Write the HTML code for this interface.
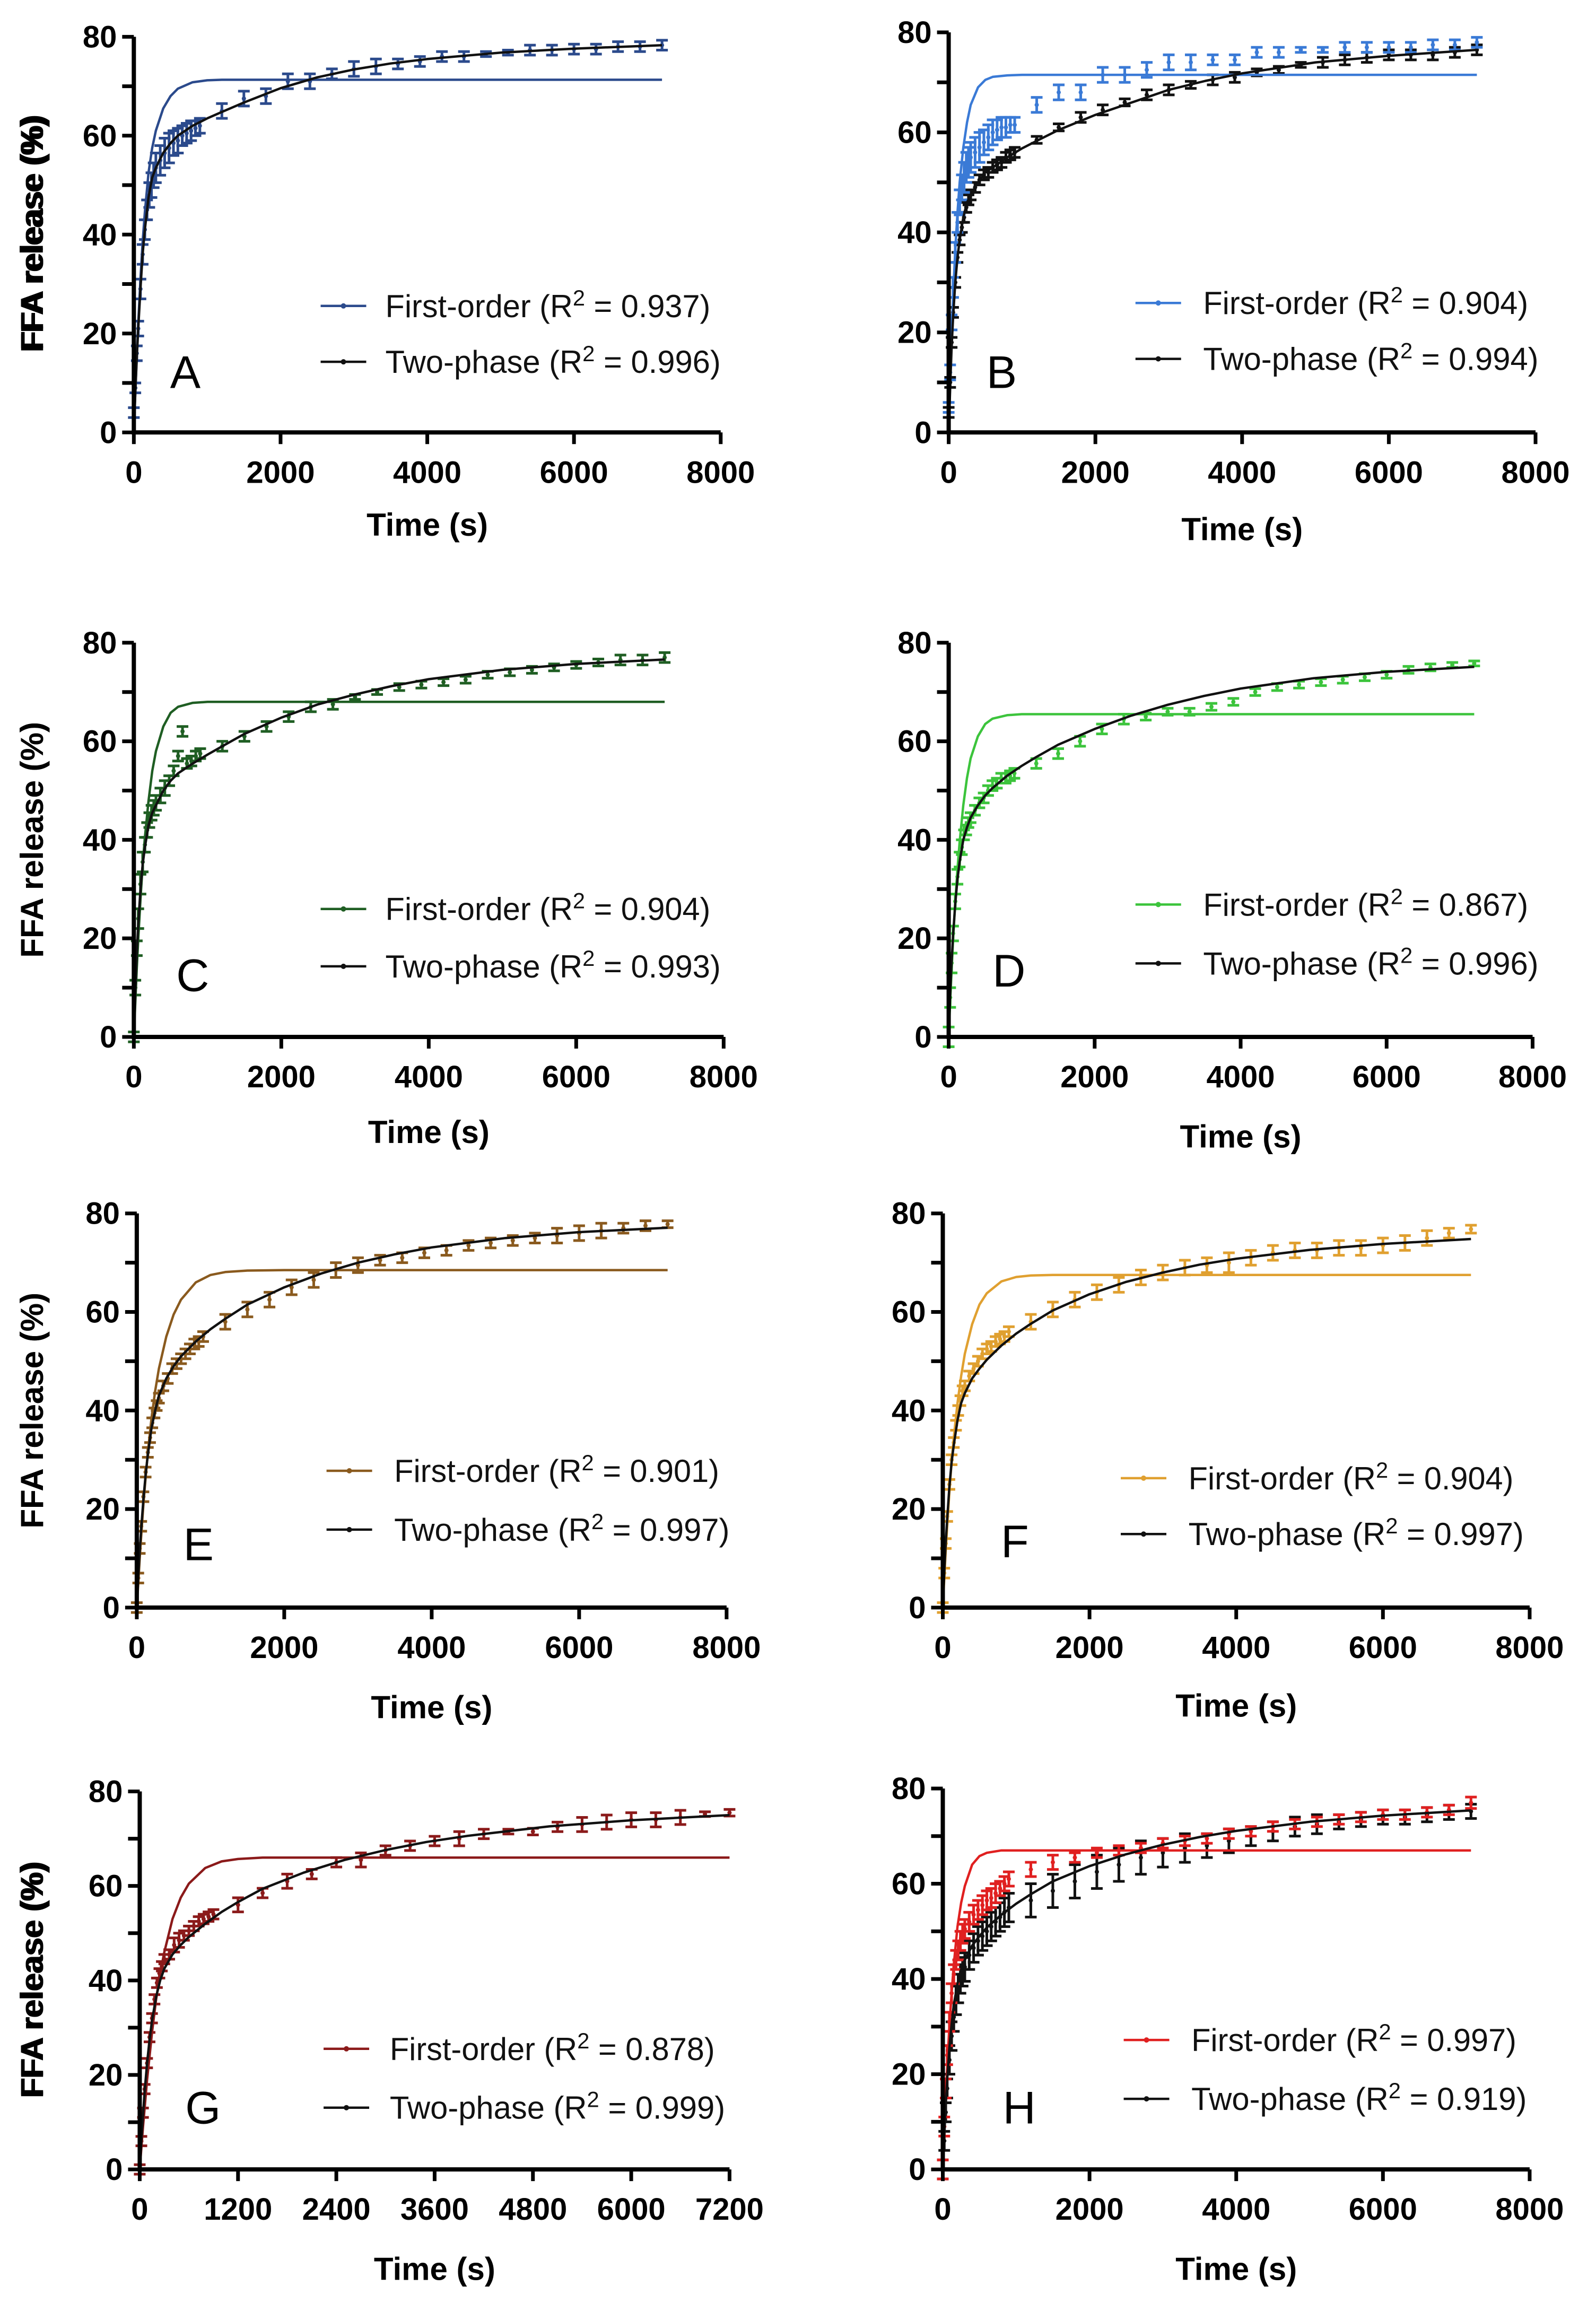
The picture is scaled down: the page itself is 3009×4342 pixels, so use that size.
<!DOCTYPE html>
<html><head><meta charset="utf-8"><style>
html,body{margin:0;padding:0;background:#fff;}
svg{display:block;}
</style></head><body>
<svg id="fig" xmlns="http://www.w3.org/2000/svg" width="3009" height="4342" viewBox="0 0 3009 4342"></svg>
<script>
// ---- data (shared time grids) ----
const dT = [0,20,40,60,90,120,150,180,210,240,270,300,360,420,480,540,600,660,720,780,840,900,1200,1500,1800,2100,2400,2700,3000,3300,3600,3900,4200,4500,4800,5100,5400,5700,6000,6300,6600,6900,7200];
const cT = [0,20,40,60,90,120,150,200,250,300,400,500,600,800,1000,1200,1500,2000,2500,3000,3500,4000,5000,6000,7200];
const yTicks = [0,20,40,60,80];
const xTicks8000 = [0,2000,4000,6000,8000];
const xTicks7200 = [0,1200,2400,3600,4800,6000,7200];

const aMean = [4,9,16,21,29,36,41,45,48,50,52,53.5,55,56.5,57.5,58.5,59,60,60.5,61,61.5,62,65,67.5,68,71,71,72.5,73.5,74,74.5,75,76,76,76.5,76.8,77.3,77.3,77.5,77.5,78,78,78.3];
const aErr  = [1,1,1.5,1.5,2,2,2,2,2.5,2.5,2.5,3,3,3,3,2.5,2.5,2,2,2,1.5,1.5,1.5,1.5,1.5,1.5,1.5,1,1.5,1.5,1,1,1,1,0.5,0.5,1,1,1,1,1,1,1];
const aFirst = [0,8,15.5,22,31,38.5,44.5,52.5,57.5,61,65.5,68,69.5,70.8,71.2,71.3,71.3,71.3,71.3,71.3,71.3,71.3,71.3,71.3,71.3];
const aTwo = [0,8,15,21,29,36,41,47.5,51.5,53.5,56.5,58.5,60,62,63.5,64.8,66.7,69.6,71.8,73.4,74.6,75.5,76.8,77.6,78.3];

const bMean = [5,12,22,29,36,42,46,49,51,53,54,55,56,57,58,59,60,60.5,61,61,61.5,61.5,65.5,68,68,71.5,71.5,72.5,74,74,74.5,74.5,76,76,76.5,76.5,77,77,77,77,77.5,77.5,78];
const bErr  = [1,1.5,1.5,2,2,2,2.5,2.5,3,3,3,3,3,3,2.5,2.5,2.5,2,2,2,1.5,1.5,1.5,1.5,1.5,1.5,1.5,1.5,1.5,1.5,1,1,1,1,0.5,0.5,1,1,1,1,1,1,1];
const bBlkMean = [4,10,18,24,30,35,38.5,41,43,45,46.5,47.5,49,50.5,51.5,52,53,53.5,54,55,55.5,56,58.5,61,63,64.5,66,67.5,68.5,69.5,70.5,71,72,72.5,73.5,74,74.5,75,75.5,75.5,75.5,76,76.5];
const bBlkErr = [1,1,1,1,1,1,1,1,1,1,1,1,1,1,1,1,1,1,1,1,1,1,0.7,0.7,1,1,0.7,1,1,0.7,1,1,0.7,0.7,0.5,1,1,1,1,1,1,1,1];
const bFirst = [0,10,19,27,36.5,44,50,57,62,65.5,69,70.5,71.1,71.4,71.5,71.5,71.5,71.5,71.5,71.5,71.5,71.5,71.5,71.5,71.5];
const bTwo = [0,9,17,23,30,35,38.5,43,46,47.5,50,52,53,55,56.8,58.3,60.5,63.5,66,68.5,70.3,71.8,74,75.3,76.5];

const cMean = [0,10,18,24,31,35.5,39,42,44,45.5,46.5,47.5,49,50.5,52,54,57,62,55.5,56,57,57.5,59,61,63,65,67,67.5,69,70,71,71.5,72,72.5,73.5,74,74.5,75,75.5,76,76.5,76.5,77];
const cErr  = [1,1.5,1.5,2,2,2,1.5,1.5,1.5,1.5,1.5,1.5,1.5,1.5,1,1,1,1,1,1,1,1,1,1,1,1,1,1,0.5,0.5,0.7,0.7,0.7,0.7,0.7,0.7,0.7,0.7,0.7,0.7,1,1,1];
const cFirst = [0,7,14,20,28,35,40.5,48,54,58,63,65.8,67,67.8,68,68,68,68,68,68,68,68,68,68,68];
const cTwo = [0,9,17,23,30,35,38.5,43,45.5,47,50,52,53.5,55.5,57.3,59,61.5,64.8,67.5,69.5,71.2,72.6,74.5,75.7,76.6];

const dMean = [0,8,15,21,27.5,32.5,36,38.5,41,42,43.5,44.5,46,47.5,48.5,50,51,51.5,52.5,52.5,53,53.5,55.5,57.5,60,62.5,64.5,65,66,66,67,68,70,71,71.5,72,72.5,73,73.5,74.5,75,75.5,75.8];
const dErr  = [2,2,2,1.5,1.5,1.5,1.5,1.5,1,1,1,1,1,1,1,1,1,1,1,1,1,1,1,1,1,1,1,0.7,0.7,0.7,0.7,0.7,0.7,0.7,0.7,0.7,0.7,0.7,0.7,0.7,0.7,0.5,0.5];
const dFirst = [0,7,13.5,19.5,27.5,34,39.5,47,52.5,56.5,61,63.5,64.6,65.3,65.5,65.5,65.5,65.5,65.5,65.5,65.5,65.5,65.5,65.5,65.5];
const dTwo = [0,8,15,20.5,27,32,35.5,40,42.5,44.5,47,49,50.5,53,55,56.8,59.3,62.5,65.2,67.4,69.2,70.7,72.8,74.1,75.1];

const eMean = [0,6,12,16.5,22.5,27.5,31.5,34.5,37.5,39.5,41,42.5,45,46.5,48.5,49.5,50.5,51.5,52.5,53.5,54,55,58,60.5,62.5,65,66.5,68.5,69.5,70.5,71,72,72.5,73.5,74,74.5,75,75.5,76,76.5,77,77.5,77.8];
const eErr  = [1,1,1,1,1,1,1,1,1,1,1,1,1,1,1,1,1,1,1,1,1,1,1.5,1.5,1.5,1.5,1.5,1.5,1.5,1,1,1,1,1,1,1,1,1.5,1.5,1.5,1,1,0.7];
const eFirst = [0,5,10,14.5,21,26.5,31.5,38.5,44,48.5,55,59.5,62.5,66,67.5,68.1,68.4,68.5,68.5,68.5,68.5,68.5,68.5,68.5,68.5];
const eTwo = [0,6,11.5,16,22,27,31,36.5,40,43,46.5,49,51,54,56.5,58.6,61.5,65,67.8,70,71.7,73.1,75,76.2,77.1];

const fMean = [0,7,13,18.5,25,30,33.5,37,40,42,44,45,47,48.5,50,51.5,52.5,53,54,54.5,55,56,58,60.5,62.5,64,65.5,67,68,69,69.5,70,71,72,72.5,72.5,73,73,73.5,74,75,76,76.8];
const fErr  = [1,1,1,1,1,1,1,1,1,1,1,1,1,1,1,1,1,1,1,1,1,1,1.5,1.5,1.5,1.5,1.5,1.5,1.5,1.5,1.5,2,1.5,1.5,1.5,1.5,1.5,1.5,1.5,1.5,1.5,1,0.8];
const fFirst = [0,6,11.5,16.5,23.5,29.5,34.5,41.5,47,51.5,57.5,61.5,63.8,66.2,67.1,67.4,67.5,67.5,67.5,67.5,67.5,67.5,67.5,67.5,67.5];
const fTwo = [0,7,13,18,24.5,29.5,33,38,41.5,43.5,46.5,48.5,50.3,53.2,55.6,57.6,60.3,63.6,66.1,68,69.6,70.8,72.6,73.8,74.8];

const gMean = [0,6,12,17,22.5,28,32,36,39.5,41.5,43,44.5,45.5,47.5,48.5,49.5,50.5,51.5,52.5,53,53.5,54,56,58.5,61,62.5,65,65.5,67.5,68.5,69.5,70,71,71.5,71.5,72.5,73,73.5,74,74,74.5,75.2,75.5];
const gErr  = [1,1,1,1,1,1,1,1,1,1,1,1,1,1.5,1.5,1,1,1,1,1,1,1,1.5,1,1.5,1,1,1.5,1,1,1,1.5,1,0.5,0.7,1,1.5,1.5,1.5,1.5,1.5,0.5,0.7];
const gFirst = [0,4.5,9,13,19,24,29,36,41.5,46,53,57.5,60.5,63.8,65.2,65.7,66,66,66,66,66,66,66,66,66];
const gTwo = [0,6,11.5,16.5,22.5,27.5,31.5,36.5,40,42.5,45.5,47.5,49.2,52,54.5,56.6,59.4,62.8,65.5,67.6,69.3,70.6,72.6,73.9,75];

const hMean = [0,9,17,24,31,37,41,44,46,48,49.5,50.5,52,53.5,54.5,55.5,56.5,57,58,59,60,61,63,64.5,65.5,66.5,67,67.5,68.5,69,69.5,70.5,71,72,72.5,73,73.5,74,74.5,74.5,75,75.5,77];
const hErr  = [2,2,2,2,2,2,2,2,2,2,2,2,2,2,2,2,2,2,2,1.5,1.5,1.5,1.5,1.5,1,1,1,1,1,1,1,1,1,1,1,1,1,1,1,1,1,1,1.2];
const hBlkMean = [0,6,12,17,23,28,32,35.5,38,40,41.5,42.5,45,46.5,48,49,50,51,52,53,54,55,56.5,58.5,60.5,62.5,64,65.5,66.5,67.5,68,69,70,71,72,72.5,73,73.5,74,74,74.5,75,75.2];
const hBlkErr = [2,2,2,2,3,3,3,3,3,3,3,3,3,3,3,3,3,3,3,3,3,3,3.5,3.5,3.5,3.5,3.5,3.5,3,3,2.5,2.5,2,2,2,2,1.5,1.5,1.5,1.5,1.5,1.5,1.5];
const hFirst = [0,8,15,21.5,30,37,43,51,56,59.5,64,65.8,66.5,67,67,67,67,67,67,67,67,67,67,67,67];
const hTwo = [0,7,13.5,19,25.5,30.5,34.5,39,42,44,47,49,50.8,53.5,55.8,57.8,60.5,63.7,66.2,68.2,69.8,71.1,73,74.3,75.4];

// ---- layout (overview coords, scaled by S) ----
const S = 2.773;
const panels = [
 {id:'a',L:'A',ax:91,y80:25,y0:294,xr:490,xmax:8000,ticks:xTicks8000,time:357,lg:[208,246],lx:218,lt:262,lab:[126,253],col:'#2b4a8c',r1:'0.937',r2:'0.996',mean:aMean,err:aErr,first:aFirst,two:aTwo},
 {id:'b',L:'B',ax:645,y80:22,y0:294,xr:1044,xmax:8000,ticks:xTicks8000,time:360,lg:[206,244],lx:772,lt:818,lab:[681,253],col:'#3a7ad6',r1:'0.904',r2:'0.994',mean:bMean,err:bErr,first:bFirst,two:bTwo,bm:bBlkMean,be:bBlkErr},
 {id:'c',L:'C',ax:91,y80:437,y0:705,xr:492,xmax:8000,ticks:xTicks8000,time:770,lg:[618,657],lx:218,lt:262,lab:[131,663],col:'#1f5e23',r1:'0.904',r2:'0.993',mean:cMean,err:cErr,first:cFirst,two:cTwo},
 {id:'d',L:'D',ax:645,y80:437,y0:705,xr:1042,xmax:8000,ticks:xTicks8000,time:773,lg:[615,655],lx:772,lt:818,lab:[686,660],col:'#3cc43c',r1:'0.867',r2:'0.996',mean:dMean,err:dErr,first:dFirst,two:dTwo},
 {id:'e',L:'E',ax:93,y80:825,y0:1093,xr:494,xmax:8000,ticks:xTicks8000,time:1161,lg:[1000,1040],lx:222,lt:268,lab:[135,1050],col:'#8a5a1e',r1:'0.901',r2:'0.997',mean:eMean,err:eErr,first:eFirst,two:eTwo},
 {id:'f',L:'F',ax:641,y80:825,y0:1093,xr:1040,xmax:8000,ticks:xTicks8000,time:1160,lg:[1005,1043],lx:762,lt:808,lab:[690,1048],col:'#e0a030',r1:'0.904',r2:'0.997',mean:fMean,err:fErr,first:fFirst,two:fTwo},
 {id:'g',L:'G',ax:95,y80:1218,y0:1475,xr:496,xmax:7200,ticks:xTicks7200,time:1543,lg:[1393,1433],lx:220,lt:265,lab:[138,1433],col:'#8b1a1a',r1:'0.878',r2:'0.999',mean:gMean,err:gErr,first:gFirst,two:gTwo},
 {id:'h',L:'H',ax:641,y80:1216,y0:1475,xr:1040,xmax:8000,ticks:xTicks8000,time:1543,lg:[1387,1427],lx:764,lt:810,lab:[693,1433],col:'#e02020',r1:'0.997',r2:'0.919',mean:hMean,err:hErr,first:hFirst,two:hTwo,bm:hBlkMean,be:hBlkErr}
];

const NS='http://www.w3.org/2000/svg';
const svg=document.getElementById('fig');
function mk(tag,attrs,parent){const e=document.createElementNS(NS,tag);for(const k in attrs)e.setAttribute(k,attrs[k]);(parent||svg).appendChild(e);return e;}
const FONT='"Liberation Sans", Arial, sans-serif';

panels.forEach(p=>{
  const g=mk('g',{});
  
  
  const X0=p.ax*S, XR=p.xr*S, Y0=p.y0*S, Y80=p.y80*S;
  const xs=t=>X0+(XR-X0)*t/p.xmax;
  const ys=v=>Y0-(Y0-Y80)*v/80;
  const curve=(vals,color,name)=>{
    let d='';cT.forEach((t,i)=>{d+=(i?'L':'M')+xs(t).toFixed(1)+','+ys(vals[i]).toFixed(1);});
    const c=mk('path',{d:d,fill:'none',stroke:color,'stroke-width':4.5,'stroke-linejoin':'round'},g);
    
    
  };
  const points=(mean,err,color,name)=>{
    const pg=mk('g',{stroke:color,'stroke-width':5,fill:'none'},g);
    
    
    dT.forEach((t,i)=>{
      if(t>p.xmax)return;
      const x=xs(t),yt=ys(mean[i]+err[i]),yb=ys(mean[i]-err[i]),ym=ys(mean[i]);
      mk('path',{d:`M${x},${yt}V${yb}M${x-11},${yt}H${x+11}M${x-11},${yb}H${x+11}`},pg);
      mk('circle',{cx:x,cy:ym,r:4,fill:color,stroke:'none'},pg);
    });
  };
  if(p.bm){points(p.bm,p.be,'#111','two-phase-data-points');}
  points(p.mean,p.err,p.col,'data-points');
  curve(p.first,p.col,'first-order-fit-curve');
  curve(p.two,'#111','two-phase-fit-curve');
  const ax=mk('path',{d:`M${X0},${Y80}V${Y0}H${XR}`,fill:'none',stroke:'#000','stroke-width':8},g);
  
  
  for(let v=0;v<=80;v+=10){
    mk('line',{x1:X0-22,x2:X0,y1:ys(v),y2:ys(v),stroke:'#000','stroke-width':7},g);
  }
  yTicks.forEach(v=>{
    const t=mk('text',{x:X0-32,y:ys(v)+20,'text-anchor':'end','font-family':FONT,'font-weight':'bold','font-size':58},g);
    t.textContent=v;
    
    
  });
  p.ticks.forEach(v=>{
    mk('line',{x1:xs(v),x2:xs(v),y1:Y0,y2:Y0+22,stroke:'#000','stroke-width':7},g);
    const t=mk('text',{x:xs(v),y:Y0+95,'text-anchor':'middle','font-family':FONT,'font-weight':'bold','font-size':58},g);
    t.textContent=v;
    
    
  });
  const yt=mk('text',{x:0,y:0,transform:`translate(${22*S+20},${(Y0+Y80)/2}) rotate(-90)`,'text-anchor':'middle','font-family':FONT,'font-weight':'bold','font-size':60},g);
  yt.textContent='FFA release (%)';
  
  
  const xt=mk('text',{x:(X0+XR)/2,y:p.time*S+20,'text-anchor':'middle','font-family':FONT,'font-weight':'bold','font-size':60},g);
  xt.textContent='Time (s)';
  
  
  const lt=mk('text',{x:p.lab[0]*S,y:p.lab[1]*S+30,'text-anchor':'middle','font-family':FONT,'font-size':86},g);
  lt.textContent=p.L;
  
  
  [[p.col,'First-order',p.r1,221],['#111','Two-phase',p.r2,228]].forEach((e,i)=>{
    const lgG=mk('g',{},g);
    
    
    const y=p.lg[i]*S;
    mk('line',{x1:p.lx*S,x2:(p.lx+31)*S,y1:y,y2:y,stroke:e[0],'stroke-width':4.5},lgG);
    mk('circle',{cx:(p.lx+15.5)*S,cy:y,r:5,fill:e[0]},lgG);
    const tx=mk('text',{x:p.lt*S,y:y+21,'font-family':FONT,'font-size':60,fill:'#111',textLength:e[3]*S,lengthAdjust:'spacingAndGlyphs'},lgG);
    const s1=mk('tspan',{},tx);s1.textContent=e[1]+' (R';
    const s2=mk('tspan',{dy:-22,'font-size':42},tx);s2.textContent='2';
    const s3=mk('tspan',{dy:22},tx);s3.textContent=' = '+e[2]+')';
  });
});
</script>
</body></html>
